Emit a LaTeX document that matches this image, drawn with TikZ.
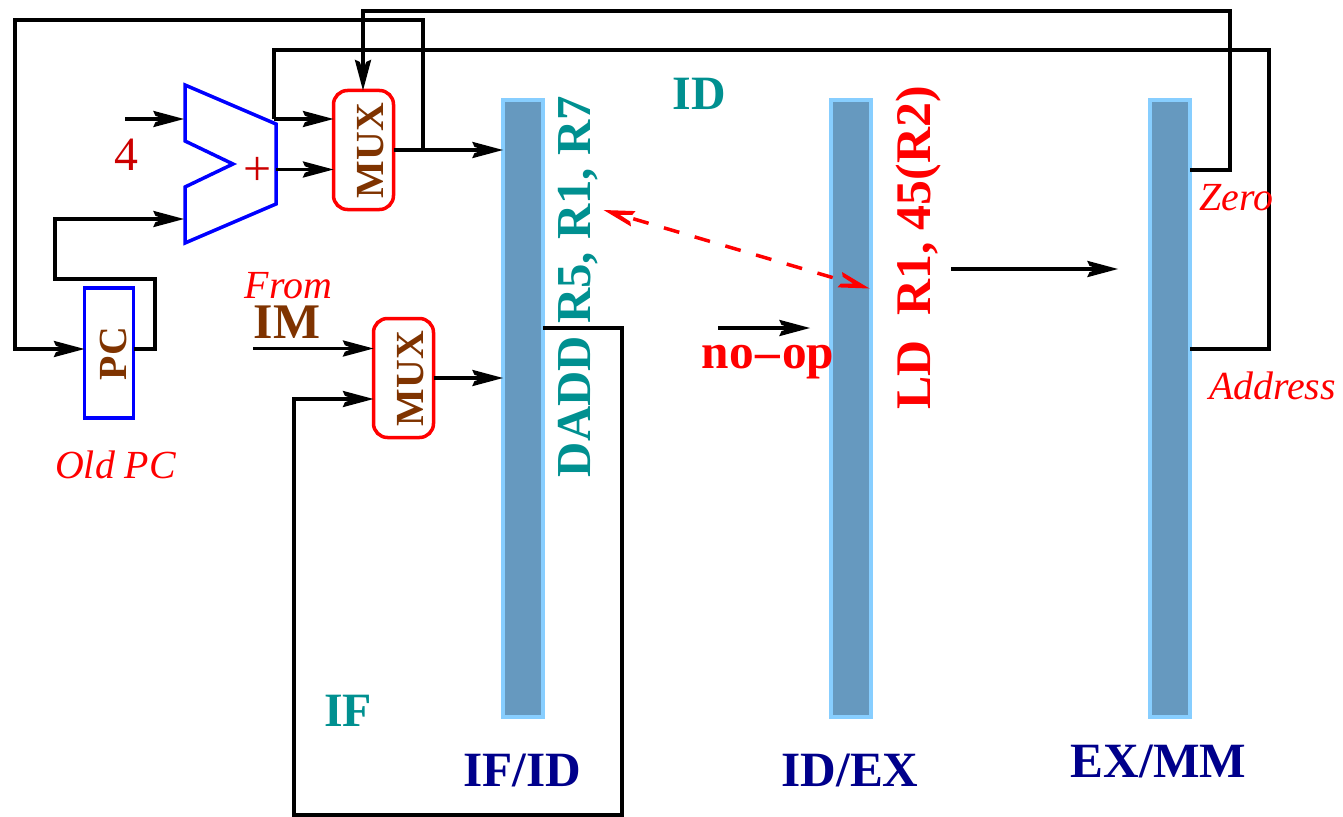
\documentclass[tikz,border=0pt]{standalone}
\usepackage{fontspec}
\setmainfont{Liberation Serif}
\usetikzlibrary{arrows.meta}
\definecolor{regfill}{HTML}{6699BF}
\definecolor{regedge}{HTML}{87CEFF}
\definecolor{tealx}{HTML}{009090}
\definecolor{navyx}{HTML}{00008B}
\definecolor{brownx}{HTML}{7F3300}
\definecolor{darkred}{HTML}{CC0000}
\newcommand{\fs}[1]{\fontsize{#1}{#1}\selectfont}
\pgfdeclarearrow{
  name=Dart,
  setup code={
    \pgfarrowssettipend{0pt}
    \pgfarrowssetbackend{-31bp}
    \pgfarrowssetlineend{-20bp}
    \pgfarrowssetvisualbackend{-20bp}
    \pgfarrowshullpoint{0pt}{0pt}
    \pgfarrowsupperhullpoint{-31bp}{8.3bp}
  },
  drawing code={
    \pgfpathmoveto{\pgfqpoint{0pt}{0pt}}
    \pgfpathlineto{\pgfpoint{-31bp}{8.3bp}}
    \pgfpathlineto{\pgfpoint{-28.5bp}{3.2bp}}
    \pgfpathlineto{\pgfpoint{-20bp}{0pt}}
    \pgfpathlineto{\pgfpoint{-28.5bp}{-3.2bp}}
    \pgfpathlineto{\pgfpoint{-31bp}{-8.3bp}}
    \pgfpathclose
    \pgfusepathqfill
  }
}
\pgfdeclarearrow{
  name=DartOpen,
  setup code={
    \pgfarrowssettipend{0pt}
    \pgfarrowssetbackend{-31bp}
    \pgfarrowssetlineend{-16bp}
    \pgfarrowssetvisualbackend{-16bp}
    \pgfarrowshullpoint{0pt}{0pt}
    \pgfarrowsupperhullpoint{-31bp}{8bp}
  },
  drawing code={
    \pgfpathmoveto{\pgfqpoint{0pt}{0pt}}
    \pgfpathlineto{\pgfpoint{-31bp}{8bp}}
    \pgfpathlineto{\pgfpoint{-29bp}{3.6bp}}
    \pgfpathlineto{\pgfpoint{-17bp}{0pt}}
    \pgfpathlineto{\pgfpoint{-29bp}{-3.6bp}}
    \pgfpathlineto{\pgfpoint{-31bp}{-8bp}}
    \pgfpathclose
    \pgfusepathqfill
  }
}
\tikzset{
  wire/.style={draw=black,line width=3.5bp,line join=miter},
  awire/.style={wire,-Dart},
  regbox/.style={draw=regedge,fill=regfill,line width=4bp,minimum width=40bp,minimum height=617bp,inner sep=0,outer sep=0,rectangle},
  muxbox/.style={draw=red,line width=3.5bp,rounded corners=14bp,minimum width=60bp,minimum height=119bp,inner sep=0,outer sep=0,rectangle},
  pcbox/.style={draw=blue,line width=3.5bp,minimum width=49bp,minimum height=130bp,inner sep=0,outer sep=0,rectangle},
  lbl/.style={inner sep=0,outer sep=0,anchor=base,text depth=0pt},
  vlbl/.style={lbl,rotate=90},
  unitlbl/.style={lbl,font=\bfseries\fs{40},text=brownx},
  stage/.style={lbl,font=\bfseries\fs{48},text=tealx},
  regname/.style={lbl,font=\bfseries\fs{49.5},text=navyx},
  note/.style={lbl,font=\itshape\fs{40},text=red},
}
\begin{document}
\begin{tikzpicture}[x=1bp,y=-1bp]
\path[use as bounding box] (0,0) rectangle (1343,816);
% registers
\node[regbox] (r1) at (523,408.5) {};
\node[regbox] (r2) at (851,408.5) {};
\node[regbox] (r3) at (1170,408.5) {};
% units
\node[muxbox] (m1) at (363.5,150) {};
\node[muxbox] (m2) at (403.5,378) {};
\node[pcbox] (pc) at (109,353) {};
\node[vlbl,unitlbl] (m1t) at (383,150.5) {MUX};
\node[vlbl,unitlbl] (m2t) at (423,378.5) {MUX};
\node[vlbl,unitlbl] (pct) at (126,353.5) {PC};
% adder
\coordinate (a1) at (185,85);
\coordinate (a2) at (276,124);
\coordinate (a3) at (276,204);
\coordinate (a4) at (185,243);
\coordinate (a5) at (185,187);
\coordinate (a6) at (233,164);
\coordinate (a7) at (185,141);
\draw[blue,line width=3.5bp,line join=miter] (a1) -- (a2) -- (a3) -- (a4) -- (a5) -- (a6) -- (a7) -- cycle;
% free ends and junctions
\coordinate (fourS) at (125,119);
\coordinate (fourE) at (184,119);
\coordinate (pcIn) at (184,219);
\coordinate (addT) at (274,119);
\coordinate (addO) at (276,169.5);
\coordinate (j1) at (423,150);
\coordinate (imS) at (253,348.5);
\coordinate (fbY) at (372,399);
\coordinate (nopS) at (718,328);
\coordinate (nopE) at (810,328);
\coordinate (fwS) at (951,269);
\coordinate (fwE) at (1118,269);
\coordinate (dashA) at (603.5,210);
\coordinate (dashC) at (832.7,277.6);
\coordinate (dashB) at (869.5,288.5);
% wires
\draw[awire] (1190,170) -- (1230,170) -- (1230,11) -- (363,11) -- (m1.north -| 363,0);
\draw[wire] (addT) -- (274,50) -- (1269,50) -- (1269,349) -- (1190,349);
\draw[awire] (addT) -- (m1.west |- addT);
\draw[awire] (addO) -- (m1.west |- addO);
\draw[awire] (fourS) -- (fourE);
\draw[awire] (pc.east |- 0,349) -- (155,349) -- (155,279) -- (55,279) -- (55,219) -- (pcIn);
\draw[awire] (m1.east) -- (r1.west |- m1.east);
\draw[awire] (j1) -- (423,20) -- (15,20) -- (15,349) -- (pc.west |- 0,349);
\draw[awire] (imS) -- (m2.west |- imS);
\draw[awire] (m2.east) -- (r1.west |- m2.east);
\draw[awire] (r1.east |- 0,328) -- (622,328) -- (622,815) -- (294,815) -- (294,399) -- (m2.west |- fbY);
\draw[awire] (nopS) -- (nopE);
\draw[awire] (fwS) -- (fwE);
\draw[red,line width=3.5bp,dash pattern=on 16bp off 16bp,dash phase=17bp,DartOpen-] (dashA) -- (dashC);
\draw[red,line width=3.5bp,dash pattern=on 0bp off 100bp,-DartOpen] (dashC) -- (dashB);
% labels
\node[vlbl,font=\bfseries\fs{49},text=tealx] (dadd) at (590,286.5) {DADD R5, R1, R7};
\node[vlbl,font=\bfseries\fs{50},text=red] (ld) at (930,248) {LD\ \ R1, 45(R2)};
\node[stage] (idt) at (699,109) {ID};
\node[stage] (ift) at (348,726.5) {IF};
\node[regname] (ifid) at (522,786.5) {IF/ID};
\node[regname] (idex) at (850,786.5) {ID/EX};
\node[regname] (exmm) at (1158.5,777) {EX/MM};
\node[lbl,font=\bfseries\fs{49.5},text=red] (nop) at (768,368) {no\kern2bp--\kern2bp op};
\node[note] (from) at (288.5,298) {From};
\node[lbl,font=\bfseries\fs{50},text=brownx] (im) at (287,338) {IM};
\node[note] (old) at (115.5,478) {Old PC};
\node[note] (zero) at (1236.5,210) {Zero};
\node[note] (addr) at (1272.5,399) {Address};
\node[lbl,font=\fs{48},text=darkred] (four) at (126,170) {4};
\node[lbl,font=\fs{50},text=darkred] (plus) at (258,185) {+};
\end{tikzpicture}
\end{document}
